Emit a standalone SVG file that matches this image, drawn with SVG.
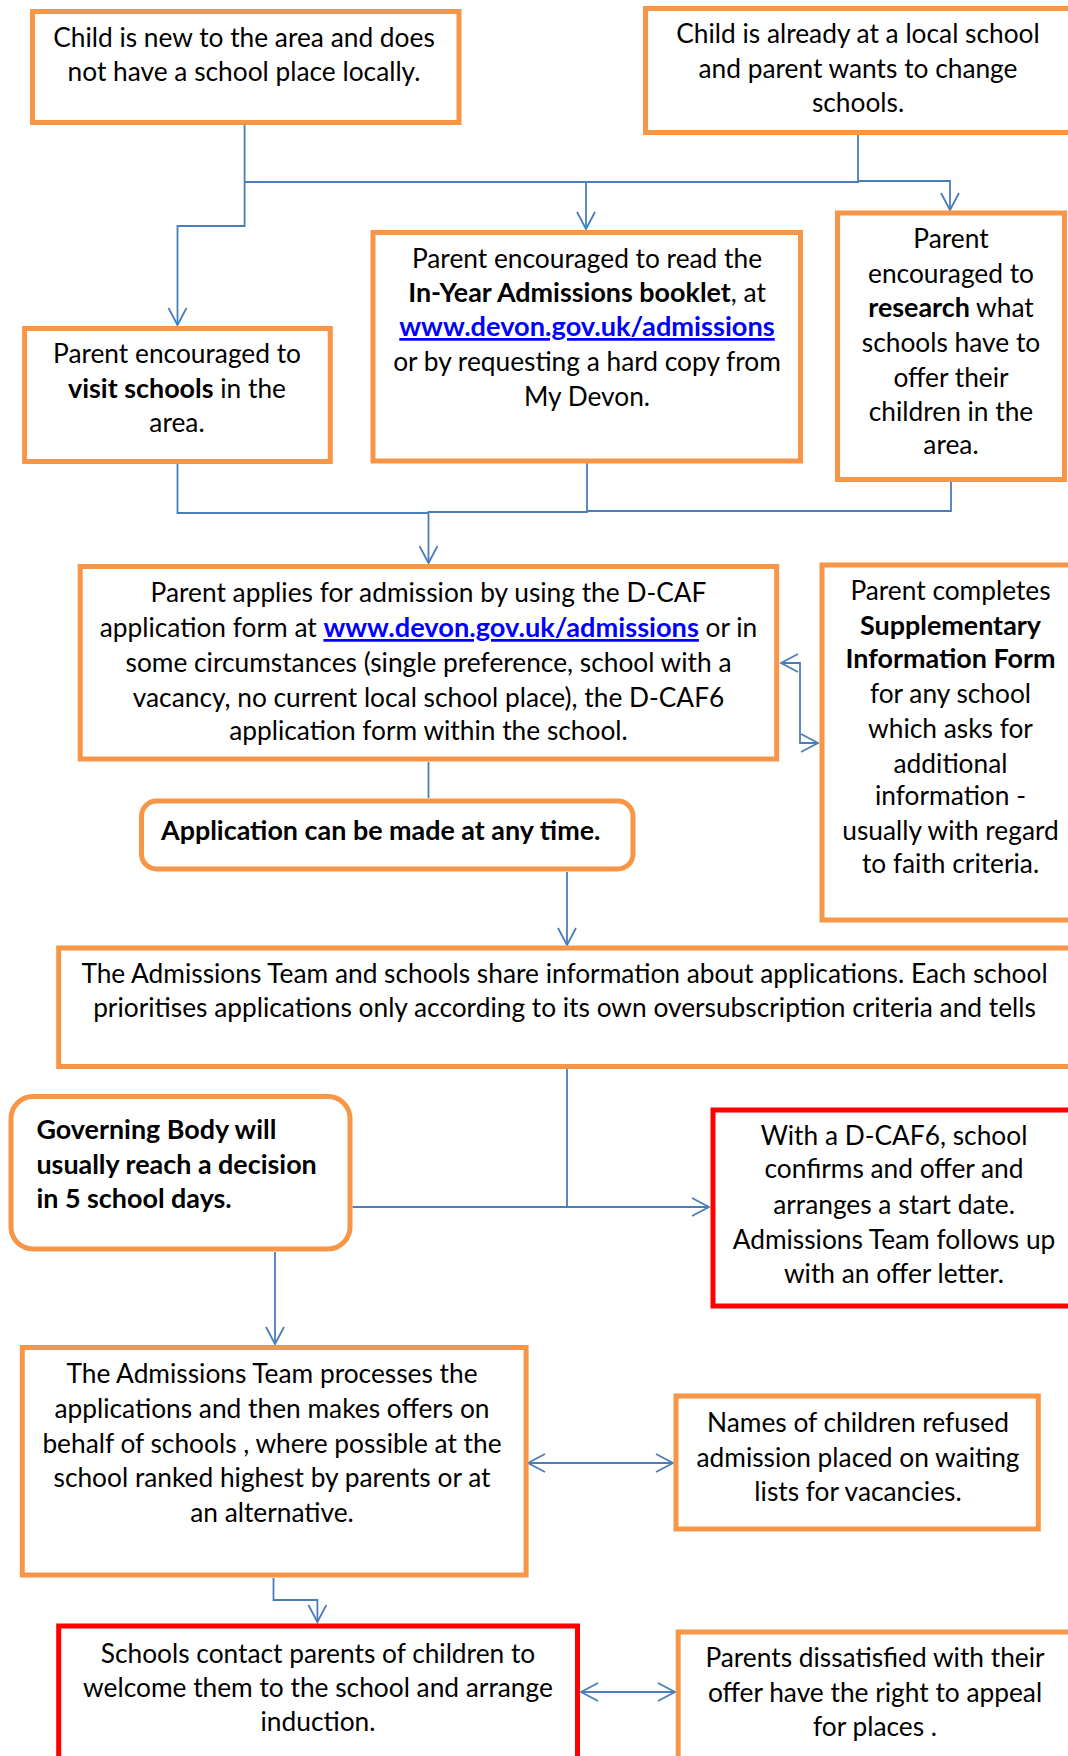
<svg xmlns="http://www.w3.org/2000/svg" width="1068" height="1756" viewBox="0 0 1068 1756">
<style>
.box{fill:#fff;stroke:#F79646;stroke-width:5}
.red{fill:#fff;stroke:#FF0000;stroke-width:5}
.t{font-family:Lato,"Liberation Sans",sans-serif;font-size:26.3px;fill:#000;text-anchor:middle}
.l{text-anchor:start}
.b{font-weight:bold;font-size:26.9px}
.lk{fill:#0000FF;font-weight:bold;font-size:27.2px;text-decoration:underline}
.c{fill:none;stroke:#4A7EBB;stroke-width:1.8}
.a{marker-end:url(#ah)}
.d{marker-start:url(#ah);marker-end:url(#ah)}
</style>
<defs>
<marker id="ah" viewBox="0 0 20 20" refX="18" refY="10" markerWidth="20" markerHeight="20" markerUnits="userSpaceOnUse" orient="auto-start-reverse">
<path d="M1,1 L18,10 L1,19" fill="none" stroke="#4A7EBB" stroke-width="1.8"/>
</marker>
</defs>
<rect width="1068" height="1756" fill="#fff"/>
<g id="connectors">
<path class="c a" d="M244.6,125 V226 H177.5 V325"/>
<path class="c" d="M244.6,182 H858 V135"/>
<path class="c a" d="M586,182 V229"/>
<path class="c a" d="M858,181 H950 V210"/>
<path class="c" d="M177.5,464 V513 H428.5"/>
<path class="c a" d="M587,463 V512 H428.5 V563"/>
<path class="c" d="M951,482 V511 H587"/>
<path class="c" d="M428.5,762 V798"/>
<path class="c a" d="M567,872 V945"/>
<path class="c d" d="M781,663 H800 V743 H818"/>
<path class="c a" d="M567,1069 V1207 H709"/>
<path class="c" d="M352.5,1207 H567"/>
<path class="c a" d="M275,1252 V1344"/>
<path class="c d" d="M528,1463 H673"/>
<path class="c a" d="M273.5,1578 V1600 H317.4 V1622"/>
<path class="c d" d="M581,1692 H675"/>
</g>
<g id="n1"><rect class="box" x="32.5" y="11.5" width="426.5" height="111"/>
<text class="t" x="244" y="47">Child is new to the area and does</text>
<text class="t" x="244" y="81">not have a school place locally.</text></g>
<g id="n2"><rect class="box" x="645.5" y="8.5" width="430" height="124"/>
<text class="t" x="858" y="43">Child is already at a local school</text>
<text class="t" x="858" y="78">and parent wants to change</text>
<text class="t" x="858" y="112">schools.</text></g>
<g id="n3"><rect class="box" x="24.6" y="328.5" width="305.7" height="133"/>
<text class="t" x="177" y="363">Parent encouraged to</text>
<text class="t" x="177" y="398"><tspan class="b">visit schools</tspan> in the</text>
<text class="t" x="177" y="432">area.</text></g>
<g id="n4"><rect class="box" x="373" y="232.5" width="427.5" height="228.5"/>
<text class="t" x="587" y="268">Parent encouraged to read the</text>
<text class="t" x="587" y="302"><tspan class="b">In-Year Admissions booklet</tspan>, at</text>
<text class="t lk" x="587" y="336">www.devon.gov.uk/admissions</text>
<text class="t" x="587" y="371">or by requesting a hard copy from</text>
<text class="t" x="587" y="406">My Devon.</text></g>
<g id="n5"><rect class="box" x="837.5" y="213" width="227" height="266.5"/>
<text class="t" x="951" y="248">Parent</text>
<text class="t" x="951" y="283">encouraged to</text>
<text class="t" x="951" y="317"><tspan class="b">research</tspan> what</text>
<text class="t" x="951" y="352">schools have to</text>
<text class="t" x="951" y="387">offer their</text>
<text class="t" x="951" y="421">children in the</text>
<text class="t" x="951" y="454">area.</text></g>
<g id="n6"><rect class="box" x="80.2" y="566.5" width="696.5" height="192.5"/>
<text class="t" x="428.5" y="602">Parent applies for admission by using the D-CAF</text>
<text class="t" x="428.5" y="637">application form at <tspan class="lk">www.devon.gov.uk/admissions</tspan>  or in</text>
<text class="t" x="428.5" y="672">some circumstances (single preference, school with a</text>
<text class="t" x="428.5" y="707">vacancy, no current local school place), the D-CAF6</text>
<text class="t" x="428.5" y="740">application form within the school.</text></g>
<g id="n7"><rect class="box" x="822" y="565" width="260" height="355"/>
<text class="t" x="950.5" y="600">Parent completes</text>
<text class="t b" x="950.5" y="635">Supplementary</text>
<text class="t b" x="950.5" y="668">Information Form</text>
<text class="t" x="950.5" y="703">for any school</text>
<text class="t" x="950.5" y="738">which asks for</text>
<text class="t" x="950.5" y="773">additional</text>
<text class="t" x="950.5" y="805">information -</text>
<text class="t" x="950.5" y="840">usually with regard</text>
<text class="t" x="950.5" y="873">to faith criteria.</text></g>
<g id="n8"><rect class="box" x="141.5" y="801" width="491.5" height="68" rx="15"/>
<text class="t b" x="380.7" y="840">Application can be made at any time.</text></g>
<g id="n9"><rect class="box" x="58.7" y="948" width="1020" height="118.5"/>
<text class="t" x="564.5" y="983">The Admissions Team and schools share information about applications. Each school</text>
<text class="t" x="564.5" y="1017">prioritises applications only according to its own oversubscription criteria and tells</text></g>
<g id="n10"><rect class="box" x="11" y="1096.5" width="339" height="152.5" rx="22"/>
<text class="t b l" x="36.4" y="1139">Governing  Body will</text>
<text class="t b l" x="36.4" y="1174">usually reach a decision</text>
<text class="t b l" x="36.4" y="1208">in 5 school days.</text></g>
<g id="n11"><rect class="red" x="713" y="1110" width="365" height="196"/>
<text class="t" x="894" y="1145">With a D-CAF6, school</text>
<text class="t" x="894" y="1178">confirms and offer and</text>
<text class="t" x="894" y="1214">arranges a start date.</text>
<text class="t" x="894" y="1249">Admissions Team follows up</text>
<text class="t" x="894" y="1283">with an offer letter.</text></g>
<g id="n12"><rect class="box" x="22.3" y="1347.5" width="503.8" height="227.5"/>
<text class="t" x="272" y="1383">The Admissions Team processes the</text>
<text class="t" x="272" y="1418">applications and then makes offers on</text>
<text class="t" x="272" y="1453">behalf of schools , where possible at the</text>
<text class="t" x="272" y="1487">school ranked highest by parents or at</text>
<text class="t" x="272" y="1522">an alternative.</text></g>
<g id="n13"><rect class="box" x="676" y="1396" width="362.3" height="133"/>
<text class="t" x="858" y="1432">Names of children refused</text>
<text class="t" x="858" y="1467">admission placed on waiting</text>
<text class="t" x="858" y="1501">lists for vacancies.</text></g>
<g id="n14"><rect class="red" x="58.7" y="1626" width="518.8" height="140"/>
<text class="t" x="318" y="1663">Schools contact parents of children to</text>
<text class="t" x="318" y="1697">welcome them to the school and arrange</text>
<text class="t" x="318" y="1731">induction.</text></g>
<g id="n15"><rect class="box" x="678.2" y="1632" width="400" height="140"/>
<text class="t" x="875" y="1667">Parents dissatisfied with their</text>
<text class="t" x="875" y="1702">offer have the right to appeal</text>
<text class="t" x="875" y="1736">for places .</text></g>
</svg>
